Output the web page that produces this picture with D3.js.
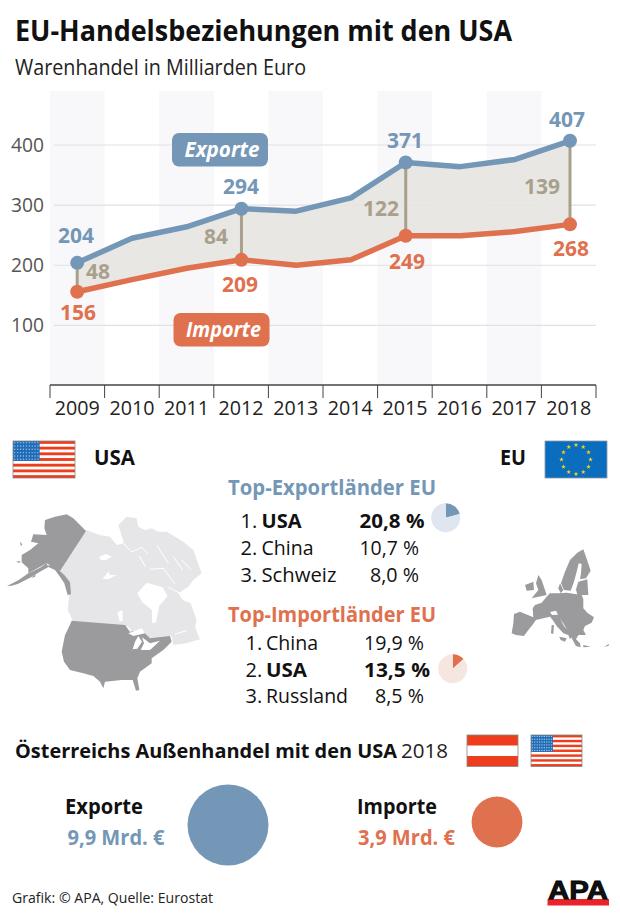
<!DOCTYPE html>
<html>
<head>
<meta charset="utf-8">
<script src="https://cdn.jsdelivr.net/npm/d3@7"></script>
<style>
  html, body { margin: 0; padding: 0; background: #fff; }
  svg { display: block; }
  text { font-family: "Open Sans", sans-serif; }
</style>
</head>
<body>
<svg id="chart" width="620" height="916"></svg>
<script>
const years = [2009, 2010, 2011, 2012, 2013, 2014, 2015, 2016, 2017, 2018];
const exporte = [204, 245, 264, 294, 290, 312, 371, 364, 376, 407];
const importe = [156, 176, 195, 209, 200, 209, 249, 249, 256, 268];
const yTicks = [100, 200, 300, 400];
const labelYears = [2009, 2012, 2015, 2018];
const saldo = [48, 84, 122, 139];

const topExport = [["1.", "USA", "20,8 %"], ["2.", "China", "10,7 %"], ["3.", "Schweiz", "8,0 %"]];
const topImport = [["1.", "China", "19,9 %"], ["2.", "USA", "13,5 %"], ["3.", "Russland", "8,5 %"]];
const pieExport = [20.8, 79.2];
const pieImport = [13.5, 86.5];
const austria = [9.9, 3.9];

// map outlines (units: 1/3 px)
const alaska = [[6,243],[40,226],[70,205],[105,188],[125,175],[128,182],[146,178],[165,198],[180,212],[195,232],[198,268],[188,270],[178,235],[165,215],[150,195],[130,186],[105,200],[75,218],[40,236],[20,242]];
const alaskaTop = [[165,198],[243,78],[205,40],[185,28],[150,35],[120,45],[118,70],[125,90],[85,88],[78,110],[100,115],[75,135],[50,150],[50,172],[70,190],[70,205],[125,175]];
const alaskaIsles = [[[44,110],[52,118],[48,123]],[[33,170],[45,168],[44,174]],[[78,218],[92,208],[90,216]]];
const canada = [[258,300],[180,420],[190,440],[208,490],[203,540],[218,572],[385,590],[400,612],[440,625],[480,625],[515,618],[520,645],[560,640],[600,628],[585,590],[590,570],[572,520],[548,510],[535,490],[565,470],[580,450],[605,430],[580,360],[550,335],[525,320],[500,305],[475,305],[455,295],[435,300],[415,290],[410,265],[380,260],[355,285],[372,340],[350,345],[330,320],[300,315]];
const hudson = [[412,490],[440,458],[488,472],[503,498],[478,528],[468,578],[456,578],[456,540],[428,518]];
const canadaLakes = [[[298,380],[318,372],[336,380],[318,390],[302,390]],[[308,446],[325,425],[330,436],[350,434],[325,448]],[[352,548],[368,540],[368,572],[360,575]]];
const canadaGaps = [[[372,342],[395,366],[425,352],[445,372]],[[470,345],[505,400]],[[520,380],[548,420]],[[450,418],[490,415],[525,462]],[[418,378],[436,410]],[[545,390],[572,418]],[[525,612],[560,602]],[[505,472],[540,490],[570,508]]];
const usa = [[65,62],[225,75],[240,95],[275,90],[300,115],[360,108],[365,125],[340,150],[305,175],[305,190],[270,215],[262,235],[268,270],[258,272],[248,240],[215,240],[165,245],[160,265],[150,245],[130,228],[100,220],[60,210],[42,185],[35,155],[45,105],[55,85]];
const usaLakes = [[[265,108],[276,125],[262,146],[248,148],[255,125]],[[235,100],[275,85],[285,100],[250,108]],[[276,112],[300,130],[330,122],[300,150],[272,150],[282,130]]];
const euShapes = [
  [[42,222],[60,215],[100,232],[98,205],[105,195],[125,188],[140,170],[150,160],[175,160],[200,158],[245,165],[250,178],[250,205],[262,218],[282,232],[275,248],[255,258],[250,270],[258,285],[235,285],[228,298],[240,310],[242,322],[228,318],[218,300],[205,275],[190,250],[178,234],[150,230],[130,235],[108,240],[95,258],[85,270],[72,288],[48,285],[35,280],[40,250]],
  [[150,230],[178,232],[192,258],[218,285],[210,298],[205,285],[190,280],[170,258],[158,240]],
  [[115,105],[125,120],[140,165],[95,175],[115,150],[108,130]],
  [[75,135],[100,125],[102,150],[80,152]],
  [[250,28],[258,50],[272,92],[258,115],[240,118],[243,100],[245,72],[236,70],[230,95],[222,125],[212,152],[192,150],[183,130],[195,95],[210,60],[232,38]],
  [[235,125],[262,118],[265,165],[232,165],[228,148]],
  [[180,130],[190,150],[182,160],[175,145]],
  [[155,255],[162,256],[160,282],[153,280]],
  [[178,290],[200,295],[195,305],[182,300]],
  [[250,315],[272,320],[250,322]],
  [[312,320],[328,311],[325,318]]
];
const euAlps = [[150,216],[168,212],[174,224],[156,225]];

const blue = "#7497b7", orange = "#e0714f", tan = "#a9a08c", ink = "#111";
const svg = d3.select("#chart");

const defs = svg.append("defs");
defs.append("filter").attr("id", "soft").append("feGaussianBlur").attr("stdDeviation", 1.2);

function txt(g, x, y, s, size, o = {}) {
  const t = g.append("text")
    .attr("x", x).attr("y", y)
    .attr("font-size", size)
    .attr("font-weight", o.weight || 400)
    .attr("font-style", o.style || "normal")
    .attr("fill", o.fill || ink)
    .attr("text-anchor", o.anchor || "start")
    .text(s);
  if (o.w) t.attr("textLength", o.w).attr("lengthAdjust", "spacingAndGlyphs");
  return t;
}

txt(svg, 15, 41, "EU-Handelsbeziehungen mit den USA", 28, { weight: 700, w: 497 });
txt(svg, 15, 75, "Warenhandel in Milliarden Euro", 21, { fill: "#222", w: 291 });

// line chart
const x = d3.scaleBand().domain(years).range([50, 596]);
const px = d3.scalePoint().domain(years).range([77.2, 570]);
const y = d3.scaleLinear().domain([0, 400]).range([385.5, 145]);
const cx = (d) => x(d) + x.bandwidth() / 2;
const chart = svg.append("g");

chart.selectAll(".band")
  .data(years.filter((d, i) => i % 2 === 0))
  .enter().append("rect")
  .attr("x", (d) => x(d))
  .attr("y", 91)
  .attr("width", x.bandwidth())
  .attr("height", 294)
  .attr("fill", "#f8f7fa");

chart.selectAll(".grid")
  .data(yTicks)
  .enter().append("line")
  .attr("x1", 54).attr("x2", 596)
  .attr("y1", (d) => y(d)).attr("y2", (d) => y(d))
  .attr("stroke", "#e1e1e3").attr("stroke-width", 1.2);

yTicks.forEach((d) => txt(chart, 44, y(d) + 6.5, d, 19.5, { anchor: "end", fill: "#555", w: 33 }));

const area = d3.area()
  .x((d, i) => px(years[i]))
  .y0((d, i) => y(importe[i]))
  .y1((d) => y(d));
chart.append("path").attr("d", area(exporte)).attr("fill", "#e6e5e2").attr("opacity", 0.92);

labelYears.forEach((yr) => {
  const i = years.indexOf(yr);
  chart.append("line")
    .attr("x1", px(yr)).attr("x2", px(yr))
    .attr("y1", y(exporte[i])).attr("y2", y(importe[i]))
    .attr("stroke", tan).attr("stroke-width", 3);
});

const line = d3.line().x((d, i) => px(years[i])).y((d) => y(d));
[[exporte, blue], [importe, orange]].forEach(([vals, col]) => {
  chart.append("path").attr("d", line(vals)).attr("fill", "none")
    .attr("stroke", col).attr("stroke-width", 5.5).attr("stroke-linejoin", "round");
  chart.selectAll(null).data(labelYears).enter().append("circle")
    .attr("cx", (d) => px(d))
    .attr("cy", (d) => y(vals[years.indexOf(d)]))
    .attr("r", 7).attr("fill", col);
});

// axis
const axisG = chart.append("g").attr("transform", "translate(0,385)");
axisG.append("line").attr("x1", 50).attr("x2", 596).attr("stroke", "#444").attr("stroke-width", 1.5);
years.concat(["end"]).forEach((d) => {
  const tx = d === "end" ? 596 : x(d);
  axisG.append("line").attr("x1", tx).attr("x2", tx).attr("y1", 0).attr("y2", 13).attr("stroke", "#444").attr("stroke-width", 1);
});
years.forEach((d) => txt(chart, cx(d), 415, d, 20, { anchor: "middle", fill: "#222", w: 45 }));

// value labels
const vLabel = (xx, yy, v, col) => txt(chart, xx, yy, v, 21, { weight: 700, fill: col, anchor: "middle", w: v > 99 ? 36 : 24 });
vLabel(76, 243, exporte[0], blue);
vLabel(78, 320, importe[0], orange);
vLabel(98, 279, saldo[0], tan);
vLabel(241, 194, exporte[3], blue);
vLabel(240, 292, importe[3], orange);
vLabel(216, 244, saldo[1], tan);
vLabel(405, 148, exporte[6], blue);
vLabel(407, 269, importe[6], orange);
vLabel(381, 216, saldo[2], tan);
vLabel(567, 127, exporte[9], blue);
vLabel(571, 256, importe[9], orange);
vLabel(542, 194, saldo[3], tan);

// series tags
[["Exporte", 172, 133, 156.5, blue], ["Importe", 173.5, 313, 336.5, orange]].forEach(([s, bx, by, base, col]) => {
  chart.append("rect").attr("x", bx).attr("y", by).attr("width", 96).attr("height", 33.5).attr("rx", 7).attr("fill", col);
  txt(chart, bx + 50, base, s, 22, { weight: 700, style: "italic", fill: "#fff", anchor: "middle", w: 75 });
});

// flags
function flagUS(g, fx, fy, w, h) {
  const f = g.append("g").attr("transform", `translate(${fx},${fy})`);
  f.append("rect").attr("width", w).attr("height", h).attr("fill", "#fff");
  const s = d3.scaleBand().domain(d3.range(13)).range([0, h]);
  f.selectAll(null).data(d3.range(0, 13, 2)).enter().append("rect")
    .attr("y", (d) => s(d)).attr("width", w).attr("height", s.bandwidth()).attr("fill", "#ee3d1c");
  const cw = w * 0.43, ch = s.bandwidth() * 7;
  f.append("rect").attr("width", cw).attr("height", ch).attr("fill", "#1f6db8");
  for (let r = 0; r < 6; r++) for (let c = 0; c < 9; c++) {
    f.append("circle").attr("cx", (c + 0.6) * cw / 9.2).attr("cy", (r + 0.5) * ch / 6).attr("r", 0.7).attr("fill", "#cfe0f2").attr("opacity", 0.75);
  }
  f.append("rect").attr("width", w).attr("height", h).attr("fill", "none").attr("stroke", "#888").attr("stroke-width", 0.8);
}
function flagAT(g, fx, fy, w, h) {
  const f = g.append("g").attr("transform", `translate(${fx},${fy})`);
  f.append("rect").attr("width", w).attr("height", h).attr("fill", "#ee3d1c");
  f.append("rect").attr("y", h / 3).attr("width", w).attr("height", h / 3).attr("fill", "#fff");
  f.append("rect").attr("width", w).attr("height", h).attr("fill", "none").attr("stroke", "#888").attr("stroke-width", 0.8);
}
function flagEU(g, fx, fy, w, h) {
  const f = g.append("g").attr("transform", `translate(${fx},${fy})`);
  f.append("rect").attr("width", w).attr("height", h).attr("fill", "#0a6dbd").attr("stroke", "#8a9aa8").attr("stroke-width", 0.8);
  f.selectAll(null).data(d3.range(12)).enter().append("path")
    .attr("d", d3.symbol().type(d3.symbolStar).size(7))
    .attr("transform", (d) => {
      const a = d * Math.PI / 6;
      return `translate(${w / 2 + 14.5 * Math.sin(a)},${h / 2 - 14.5 * Math.cos(a)})`;
    })
    .attr("fill", "#f7d417");
}
flagUS(svg, 13, 441, 62, 37);
flagEU(svg, 545, 441, 62, 37);
flagAT(svg, 467, 735, 51, 31.5);
flagUS(svg, 531, 735, 51, 31.5);

txt(svg, 94, 465, "USA", 21, { weight: 700, w: 41 });
txt(svg, 500, 465, "EU", 21, { weight: 700, w: 26 });

// maps
const closed = d3.line().curve(d3.curveLinearClosed);
const open = d3.line();
const mapDark = "#9b9a9d", mapLight = "#e6e6e8";

const mapA = svg.append("g").attr("transform", "translate(0,430) scale(0.3333)").attr("filter", "url(#soft)");
mapA.append("path").attr("d", closed(canada)).attr("fill", mapLight);
mapA.append("path").attr("d", closed(hudson)).attr("fill", "#fff");
canadaLakes.forEach((p) => mapA.append("path").attr("d", closed(p)).attr("fill", "#fff"));
canadaGaps.forEach((p) => mapA.append("path").attr("d", open(p)).attr("fill", "none").attr("stroke", "#fff").attr("stroke-width", 3));
const mapAk = svg.append("g").attr("transform", "translate(5,505) scale(0.3333)").attr("filter", "url(#soft)");
mapAk.append("path").attr("d", closed(alaska)).attr("fill", mapDark);
mapAk.append("path").attr("d", closed(alaskaTop)).attr("fill", mapDark);
alaskaIsles.forEach((p) => mapAk.append("path").attr("d", closed(p)).attr("fill", mapDark));
const mapUs = svg.append("g").attr("transform", "translate(50,600) scale(0.3333)").attr("filter", "url(#soft)");
mapUs.append("path").attr("d", closed(usa)).attr("fill", mapDark);
usaLakes.forEach((p) => mapUs.append("path").attr("d", closed(p)).attr("fill", "#fff"));

const mapE = svg.append("g").attr("transform", "translate(500,540) scale(0.3333)").attr("filter", "url(#soft)");
euShapes.forEach((p) => mapE.append("path").attr("d", closed(p)).attr("fill", mapDark));
mapE.append("path").attr("d", closed(euAlps)).attr("fill", "#fff");

// top lists
txt(svg, 228, 495, "Top-Exportländer EU", 21, { weight: 700, fill: blue, w: 208 });
txt(svg, 228, 622, "Top-Importländer EU", 21, { weight: 700, fill: orange, w: 208 });

function rows(list, baselines, nx, nameX, boldIdx, nameW, pctX, pctW) {
  list.forEach((r, i) => {
    const b = i === boldIdx ? 700 : 400;
    txt(svg, nx, baselines[i], r[0], 20);
    txt(svg, nameX, baselines[i], r[1], 20, { weight: b, w: nameW[i] });
    txt(svg, pctX[i], baselines[i], r[2], 20, { weight: b, w: pctW[i] });
  });
}
rows(topExport, [528, 555, 582], 240.5, 261.5, 0, [40, 52, 75], [359.5, 359.5, 370], [65, 59.5, 49]);
rows(topImport, [650, 677, 703], 245.5, 266, 1, [52, 41, 82], [364, 364, 375], [60, 66, 49]);

const arc = d3.arc().innerRadius(0).outerRadius(14.5);
const pie = d3.pie().sort(null);
[[pieExport, 445.7, 517.7, blue, "#dfe6ef"], [pieImport, 452.7, 668.7, orange, "#f5e6df"]].forEach(([vals, cxP, cyP, c1, c2]) => {
  svg.append("g").attr("transform", `translate(${cxP},${cyP})`)
    .selectAll("path").data(pie(vals)).enter().append("path")
    .attr("d", arc)
    .attr("fill", (d, i) => (i === 0 ? c1 : c2));
});

// Austria
txt(svg, 15, 758, "Österreichs Außenhandel mit den USA", 20, { weight: 700, w: 382 });
txt(svg, 401, 758, "2018", 20, { fill: "#222", w: 47 });

const r = d3.scaleSqrt().domain([0, d3.max(austria)]).range([0, 40.5]);
txt(svg, 65, 814, "Exporte", 21, { weight: 700, w: 78 });
txt(svg, 67.5, 845, "9,9 Mrd. €", 21, { weight: 700, fill: blue, w: 97 });
svg.append("circle").attr("cx", 228).attr("cy", 825).attr("r", r(austria[0])).attr("fill", blue);
txt(svg, 357, 814, "Importe", 21, { weight: 700, w: 80 });
txt(svg, 358, 845, "3,9 Mrd. €", 21, { weight: 700, fill: orange, w: 97 });
svg.append("circle").attr("cx", 497).attr("cy", 822).attr("r", r(austria[1])).attr("fill", orange);

// footer
txt(svg, 12, 903, "Grafik: © APA, Quelle: Eurostat", 15, { fill: "#222", w: 201 });
svg.append("rect").attr("x", 547.5).attr("y", 899).attr("width", 61.5).attr("height", 6.5).attr("fill", "#e8242a");
txt(svg, 548, 899, "APA", 25, { weight: 700, w: 60 })
  .style("font-family", "'Liberation Sans', sans-serif")
  .attr("stroke", "#000").attr("stroke-width", 0.8);
</script>
</body>
</html>
